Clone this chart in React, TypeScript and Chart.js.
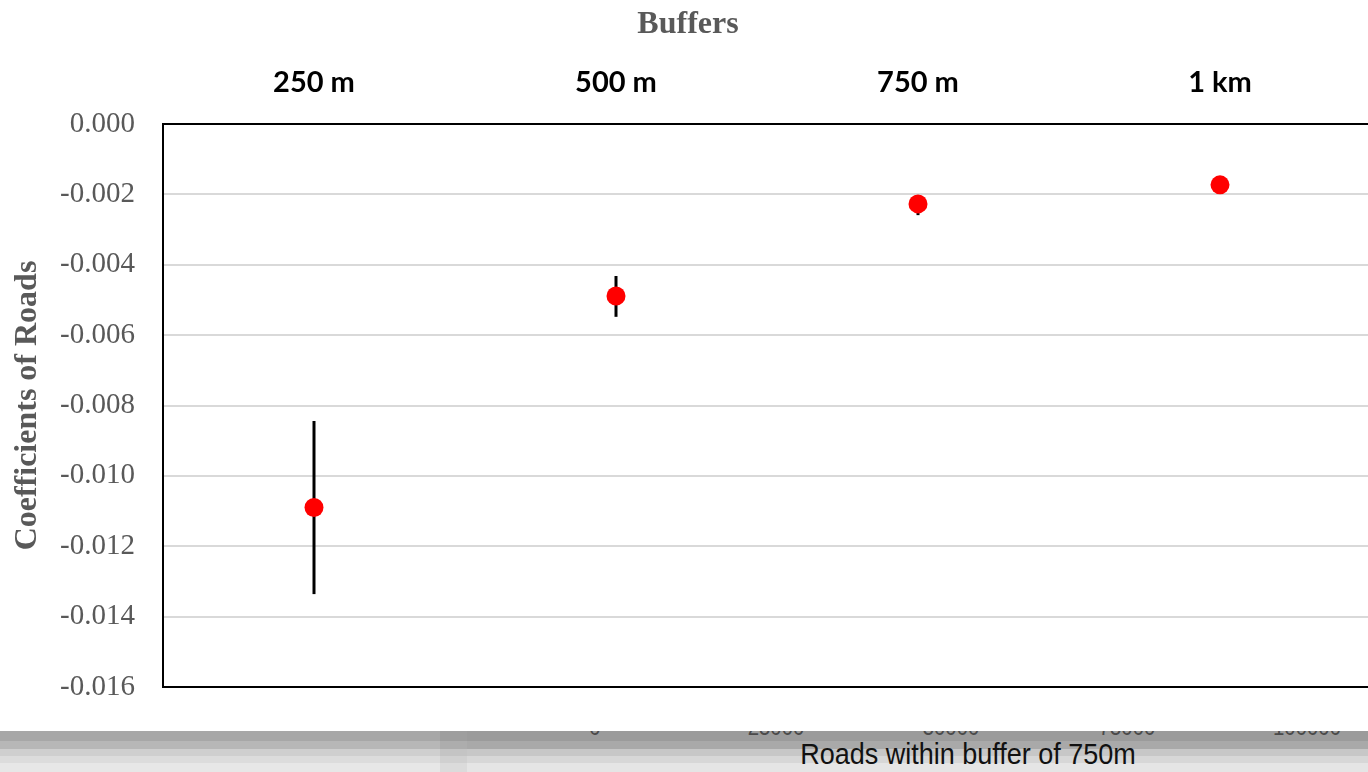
import React, { useEffect, useRef } from 'react';
import { Chart, registerables } from 'chart.js';

Chart.register(...registerables);

const categories = ['250 m', '500 m', '750 m', '1 km'];
const coefficients = [-0.0109, -0.00489, -0.00227, -0.00173];
const errorLow = [-0.01336, -0.00548, -0.00259, -0.00186];
const errorHigh = [-0.00844, -0.00432, -0.00202, -0.0016];
const yMin = -0.016;
const yMax = 0;
const yStep = 0.002;
const chartTitle = 'Buffers';
const yTitle = 'Coefficients of Roads';
const bottomAxisTicks = ['0', '25000', '50000', '75000', '100000'];
const bottomAxisTickX = [595, 776, 951, 1127, 1307];
const bottomAxisTitle = 'Roads within buffer of 750m';

const framePlugin = {
  id: 'frameAndErrors',
  beforeDatasetsDraw(chart: any) {
    const { ctx, chartArea, scales } = chart;
    const x = scales.x;
    const y = scales.y;
    ctx.save();
    ctx.strokeStyle = '#000000';
    ctx.lineWidth = 2;
    ctx.strokeRect(chartArea.left, chartArea.top, chartArea.right - chartArea.left, chartArea.bottom - chartArea.top);
    ctx.lineWidth = 3;
    ctx.lineCap = 'butt';
    categories.forEach((_, i) => {
      const px = x.getPixelForValue(i);
      ctx.beginPath();
      ctx.moveTo(px, y.getPixelForValue(errorHigh[i]));
      ctx.lineTo(px, y.getPixelForValue(errorLow[i]));
      ctx.stroke();
    });
    ctx.restore();
  },
};

export default function App() {
  const canvasRef = useRef<HTMLCanvasElement | null>(null);

  useEffect(() => {
    if (!canvasRef.current) return;
    const chart = new Chart(canvasRef.current, {
      type: 'line',
      data: {
        labels: categories,
        datasets: [
          {
            data: coefficients,
            showLine: false,
            pointRadius: 9.5,
            pointBackgroundColor: '#ff0000',
            pointBorderColor: '#ff0000',
            pointBorderWidth: 0,
            borderColor: '#ff0000',
            backgroundColor: '#ff0000',
          },
        ],
      },
      options: {
        responsive: false,
        animation: false,
        events: [],
        layout: { autoPadding: false, padding: { left: 5, right: 5, top: 0, bottom: 53 } },
        plugins: {
          legend: { display: false },
          tooltip: { enabled: false },
          title: {
            display: true,
            text: chartTitle,
            color: '#595959',
            font: { family: "'Liberation Serif', serif", size: 32, weight: 'bold' },
            padding: { top: 6, bottom: 0 },
          },
        },
        scales: {
          x: {
            type: 'category',
            position: 'top',
            offset: true,
            grid: { display: false, drawTicks: false },
            border: { display: false },
            ticks: {
              color: '#000000',
              font: { family: 'Lato', size: 29, weight: 'bold' },
              padding: 24,
              maxRotation: 0,
              autoSkip: false,
            },
            afterFit(scale: any) {
              scale.height = 79.6;
            },
          },
          y: {
            type: 'linear',
            min: yMin,
            max: yMax,
            grid: { color: '#d9d9d9', lineWidth: 2, drawTicks: false },
            border: { display: false },
            ticks: {
              stepSize: yStep,
              color: '#595959',
              font: { family: "'Liberation Serif', serif", size: 29 },
              padding: 28,
              callback: (v: any) => Number(v).toFixed(3),
            },
            title: {
              display: true,
              text: yTitle,
              color: '#595959',
              font: { family: "'Liberation Serif', serif", size: 32, weight: 'bold' },
              padding: { top: 4, bottom: 0 },
            },
            afterFit(scale: any) {
              scale.width = 158;
            },
          },
        },
      },
      plugins: [framePlugin],
    });
    return () => chart.destroy();
  }, []);

  const bandRows = ['#9b9b9b', '#a9a9a9', '#c7c7c7', '#d7d7d7', '#e5e5e5'];
  const bandRowsLeft = ['#a7a7a7', '#b7b7b7', '#cfcfcf', '#dcdcdc', '#e7e7e7'];
  const rowHeights = [10, 8, 7, 7, 9];

  return (
    <div
      style={{
        position: 'fixed',
        left: 0,
        top: 0,
        width: 1368,
        height: 772,
        overflow: 'hidden',
        background: '#ffffff',
      }}
    >
      <canvas
        ref={canvasRef}
        width={1376}
        height={740}
        style={{ position: 'absolute', left: 0, top: 0, width: 1376, height: 740 }}
      />
      <div style={{ position: 'absolute', left: 0, top: 731, width: 1368, height: 41, overflow: 'hidden' }}>
        {rowHeights.map((h, i) => {
          const top = rowHeights.slice(0, i).reduce((a, b) => a + b, 0);
          return (
            <React.Fragment key={i}>
              <div style={{ position: 'absolute', left: 0, top, width: 467, height: h, background: bandRowsLeft[i] }} />
              <div style={{ position: 'absolute', left: 467, top, width: 901, height: h, background: bandRows[i] }} />
            </React.Fragment>
          );
        })}
        <div style={{ position: 'absolute', left: 440, top: 0, width: 27, height: 41, background: 'rgba(0,0,0,0.05)' }} />
        {bottomAxisTicks.map((t, i) => (
          <div
            key={t}
            style={{
              position: 'absolute',
              left: bottomAxisTickX[i] - 60,
              width: 120,
              top: -17,
              textAlign: 'center',
              fontFamily: "'Liberation Sans', sans-serif",
              fontSize: 24,
              lineHeight: '26px',
              color: '#4a4a4a',
              transform: 'scaleX(0.85)',
            }}
          >
            {t}
          </div>
        ))}
        <div
          style={{
            position: 'absolute',
            left: 968 - 250,
            width: 500,
            top: 6,
            textAlign: 'center',
            fontFamily: "'Liberation Sans', sans-serif",
            fontSize: 30,
            lineHeight: '34px',
            color: '#111111',
            transform: 'scaleX(0.9)',
            whiteSpace: 'nowrap',
          }}
        >
          {bottomAxisTitle}
        </div>
      </div>
    </div>
  );
}
